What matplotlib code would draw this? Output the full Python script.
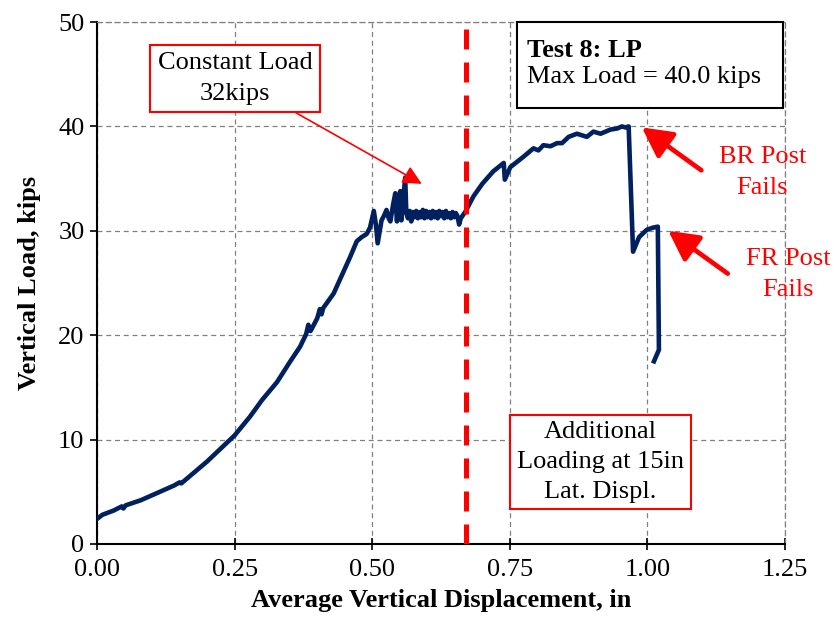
import matplotlib
matplotlib.use('Agg')
import matplotlib.pyplot as plt
from matplotlib.patches import Rectangle

#---DATA---
disp = [0.000, 0.010, 0.030, 0.045, 0.048, 0.052, 0.080, 0.110, 0.140, 0.150, 0.153, 0.200,
        0.250, 0.278, 0.300, 0.327, 0.350, 0.369, 0.380, 0.384, 0.388, 0.400, 0.405, 0.408,
        0.411, 0.430, 0.460, 0.472, 0.481, 0.490, 0.496, 0.503, 0.507, 0.510, 0.517, 0.522,
        0.526, 0.530, 0.533, 0.538, 0.542, 0.545, 0.548, 0.551, 0.553, 0.556, 0.560, 0.562,
        0.565, 0.568, 0.571, 0.574, 0.577, 0.580, 0.583, 0.586, 0.589, 0.592, 0.595, 0.598,
        0.601, 0.604, 0.607, 0.610, 0.613, 0.616, 0.619, 0.622, 0.625, 0.628, 0.631, 0.634,
        0.637, 0.640, 0.643, 0.646, 0.649, 0.652, 0.655, 0.658, 0.661, 0.669, 0.684, 0.700,
        0.720, 0.739, 0.741, 0.751, 0.775, 0.793, 0.802, 0.811, 0.824, 0.836, 0.845, 0.857,
        0.872, 0.890, 0.902, 0.915, 0.933, 0.945, 0.954, 0.960, 0.966, 0.974, 0.985, 0.999,
        1.010, 1.019, 1.021, 1.012]
load = [2.4, 2.8, 3.2, 3.6, 3.4, 3.7, 4.2, 4.9, 5.6, 5.9, 5.8, 7.9,
        10.4, 12.2, 13.8, 15.5, 17.4, 18.9, 20.1, 21.0, 20.4, 21.6, 22.5, 22.0,
        22.6, 24.0, 27.5, 29.0, 29.4, 29.7, 30.3, 31.9, 30.5, 28.8, 31.0, 31.5,
        32.0, 31.2, 30.9, 32.5, 33.6, 30.9, 33.0, 33.8, 31.0, 32.8, 35.1, 31.7,
        31.2, 31.9, 30.9, 31.8, 31.3, 31.9, 31.2, 31.8, 31.3, 32.0, 31.2, 31.9,
        31.3, 31.8, 31.2, 31.9, 31.3, 31.8, 31.2, 31.9, 31.4, 31.8, 31.2, 31.9,
        31.3, 31.7, 31.2, 31.8, 31.3, 31.7, 31.4, 30.6, 31.2, 31.8, 33.3, 34.5,
        35.7, 36.5, 34.9, 36.1, 37.1, 37.9, 37.7, 38.2, 38.1, 38.4, 38.4, 39.0,
        39.3, 39.0, 39.5, 39.3, 39.7, 39.8, 40.0, 39.9, 40.0, 28.0, 29.4, 30.1,
        30.3, 30.4, 18.6, 17.5]

lateral_load_disp = 0.671
x_ticks = [0.00, 0.25, 0.50, 0.75, 1.00, 1.25]
y_ticks = [0, 10, 20, 30, 40, 50]

#---PLOT---
plt.rcParams['font.family'] = ['Liberation Serif', 'DejaVu Serif']
fs = 19
red = '#FF0000'

fig = plt.figure(figsize=(8.34, 6.31), dpi=100)
ax = fig.add_axes([0.1163, 0.1379, 0.8249, 0.8272])

ax.plot(disp, load, color='#002060', lw=3.3, solid_joinstyle='round', zorder=5)
ax.axvline(lateral_load_disp, color=red, lw=3.6, dashes=(4, 2.6), zorder=6)

ax.set_xlim(0, 1.25)
ax.set_ylim(0, 50)
ax.set_xticks(x_ticks)
ax.set_yticks(y_ticks)
ax.set_xticklabels([f'{v:.2f}' for v in x_ticks], fontsize=fs)
ax.set_yticklabels([str(v) for v in y_ticks], fontsize=fs)
ax.tick_params(axis='x', direction='inout', length=9, width=1.2, pad=6)
ax.tick_params(axis='y', direction='out', length=5, width=1.2, pad=4)

#grid and frame
ax.grid(True, color='#808080', lw=0.9, ls=(0, (4, 3)))
for s in ['top', 'right']:
    ax.spines[s].set_color('#808080')
    ax.spines[s].set_linestyle((0, (4, 3)))
    ax.spines[s].set_linewidth(0.9)
for s in ['left', 'bottom']:
    ax.spines[s].set_linewidth(1.5)

ax.set_xlabel('Average Vertical Displacement, in', fontsize=fs, fontweight='bold', labelpad=6)
ax.set_ylabel('Vertical Load, kips', fontsize=fs, fontweight='bold', labelpad=12)

#---ANNOTATIONS---
small_head = '-|>,head_length=0.6,head_width=0.3'
big_head = '-|>,head_length=0.95,head_width=0.5'
ax.annotate('Constant Load\n32kips', xy=(0.590, 34.5), xytext=(0.251, 44.6),
            ha='center', va='center', fontsize=fs, linespacing=1.5,
            bbox=dict(boxstyle='square,pad=0.28', fc='white', ec=red, lw=1.5),
            arrowprops=dict(arrowstyle=small_head, color=red, lw=1.2, shrinkA=0, shrinkB=0,
                            mutation_scale=fs),
            zorder=8)

ax.text(0.915, 7.85, 'Additional\nLoading at 15in\nLat. Displ.', ha='center', va='center',
        fontsize=fs, linespacing=1.45,
        bbox=dict(boxstyle='square,pad=0.25', fc='white', ec=red, lw=1.5), zorder=8)

#post failure labels and arrows
ax.text(1.209, 35.6, 'BR Post\nFails', color=red, ha='center', va='center', fontsize=fs,
        linespacing=1.5, clip_on=False, zorder=8)
ax.annotate('', xy=(0.990, 39.9), xytext=(1.098, 35.8),
            arrowprops=dict(arrowstyle=big_head, color=red, lw=3.4, shrinkA=0, shrinkB=0,
                            mutation_scale=fs),
            annotation_clip=False, zorder=8)
ax.text(1.256, 25.8, 'FR Post\nFails', color=red, ha='center', va='center', fontsize=fs,
        linespacing=1.5, clip_on=False, zorder=8)
ax.annotate('', xy=(1.038, 30.0), xytext=(1.146, 25.9),
            arrowprops=dict(arrowstyle=big_head, color=red, lw=3.4, shrinkA=0, shrinkB=0,
                            mutation_scale=fs),
            annotation_clip=False, zorder=8)

#test info box
ax.add_patch(Rectangle((0.7636, 41.76), 0.4836, 8.24, fc='white', ec='black', lw=1.5,
                       clip_on=False, zorder=9))
ax.text(0.782, 46.65, 'Test 8: LP', fontsize=fs, fontweight='bold', va='baseline', zorder=10)
ax.text(0.782, 44.16, 'Max Load = 40.0 kips', fontsize=fs, va='baseline', zorder=10)

plt.savefig('out.png', dpi=100)
